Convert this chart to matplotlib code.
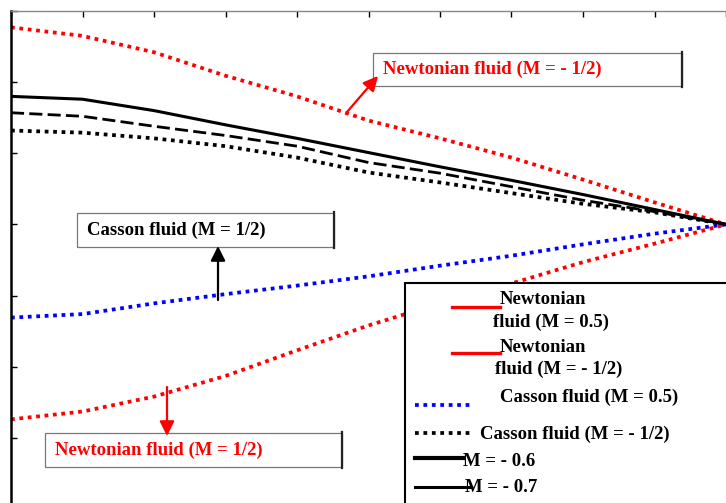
import matplotlib.pyplot as plt
from matplotlib.patches import Rectangle
from matplotlib.lines import Line2D

# serif bold labels, Times-like
plt.rcParams['font.family'] = ['Liberation Serif', 'DejaVu Serif']
plt.rcParams['font.weight'] = 'bold'

# distance along the channel
x_vals = [0.0, 0.1, 0.2, 0.3, 0.4, 0.5, 0.6, 0.7, 0.8, 0.9, 1.0]

# Newtonian fluid profiles
newton_neg_half = [2.77, 2.65, 2.42, 2.09, 1.80, 1.46, 1.21, 0.94, 0.63, 0.31, 0.0]
newton_pos_half = [-2.74, -2.63, -2.42, -2.13, -1.77, -1.42, -1.11, -0.83, -0.53, -0.27, 0.0]

# Casson fluid profiles
casson_pos_half = [-1.31, -1.26, -1.11, -0.98, -0.86, -0.73, -0.58, -0.44, -0.28, -0.13, 0.0]
casson_neg_half = [1.32, 1.29, 1.21, 1.10, 0.94, 0.73, 0.59, 0.44, 0.29, 0.17, 0.0]
casson_m06 = [1.80, 1.76, 1.60, 1.40, 1.21, 1.01, 0.81, 0.62, 0.42, 0.21, 0.0]
casson_m07 = [1.57, 1.52, 1.38, 1.25, 1.10, 0.87, 0.72, 0.53, 0.34, 0.18, 0.0]

W, H = 726, 503
fig = plt.figure(figsize=(W / 100, H / 100), dpi=100)

# main axes (right and bottom edges run off the canvas)
ax = fig.add_axes([11 / W, (H - 509) / H, (726 - 11) / W, 498 / H])
DOT = (0, (1, 1.25))
ax.plot(x_vals, newton_neg_half, color='red', lw=2.7, ls=DOT)
ax.plot(x_vals, newton_pos_half, color='red', lw=2.7, ls=DOT)
ax.plot(x_vals, casson_pos_half, color='blue', lw=2.7, ls=DOT)
ax.plot(x_vals, casson_neg_half, color='black', lw=2.7, ls=DOT)
ax.plot(x_vals, casson_m07, color='black', lw=2.0, ls=(0, (4.7, 1.9)))
ax.plot(x_vals, casson_m06, color='black', lw=2.2)

ax.set_xlim(0, 1)
ax.set_ylim(-4, 3)
ax.set_xticks([i / 10 for i in range(11)])
ax.set_yticks(range(-4, 4))
ax.tick_params(direction='in', length=4, width=1, labelleft=False,
               labelbottom=False, top=True, bottom=True, left=True, right=False)
ax.spines['right'].set_visible(False)
ax.spines['top'].set_color('#888888')
ax.spines['top'].set_linewidth(1.0)
ax.spines['left'].set_linewidth(1.8)

# overlay in pixel units for the boxes, arrows and key
ov = fig.add_axes([0, 0, 1, 1], zorder=5)
ov.set_xlim(0, W)
ov.set_ylim(H, 0)
ov.axis('off')
ov.patch.set_alpha(0)

FS = 13.5


def label_box(x0, y0, x1, y1, text, tx, color):
    ov.add_patch(Rectangle((x0, y0), x1 - x0, y1 - y0, facecolor='white',
                           edgecolor='#777777', lw=0.9))
    ov.plot([x1, x1], [y0 - 1, y1 + 1], color='#222222', lw=1.6)
    ov.text(tx, (y0 + y1) / 2, text, color=color, fontsize=FS,
            ha='left', va='center')


label_box(373, 53, 682, 86, 'Newtonian fluid (M = - 1/2)', 383, 'red')
label_box(77, 213, 334, 247, 'Casson fluid (M = 1/2)', 87, 'black')
label_box(45, 433, 342, 467, 'Newtonian fluid (M = 1/2)', 55, 'red')

arrow = dict(arrowstyle='-|>', lw=1.6, mutation_scale=22, shrinkA=0, shrinkB=0)
ov.annotate('', xy=(378, 76), xytext=(347, 112),
            arrowprops=dict(arrow, color='red'))
ov.annotate('', xy=(218, 246), xytext=(218, 300),
            arrowprops=dict(arrow, color='black'))
ov.annotate('', xy=(167, 436), xytext=(167, 387),
            arrowprops=dict(arrow, color='red'))

# key
ov.add_patch(Rectangle((405, 283), 340, 240, facecolor='white',
                       edgecolor='black', lw=1.5))
key_lines = [
    ((452, 500), 307, 'red', 2.4, '-'),
    ((452, 500), 353, 'red', 2.4, '-'),
    ((415, 472), 405, 'blue', 2.7, DOT),
    ((415, 472), 433, 'black', 2.7, DOT),
    ((415, 463), 458, 'black', 3.0, '-'),
    ((415, 470), 487, 'black', 2.2, '-'),
]
for (xa, xb), yy, c, lw, ls in key_lines:
    ov.add_line(Line2D([xa, xb], [yy, yy], color=c, lw=lw, ls=ls))

key_texts = [
    (500, 299, 'Newtonian'),
    (493, 322, 'fluid (M = 0.5)'),
    (500, 347, 'Newtonian'),
    (495, 369, 'fluid (M = - 1/2)'),
    (500, 397, 'Casson fluid (M = 0.5)'),
    (480, 434, 'Casson fluid (M = - 1/2)'),
    (463, 461, 'M = - 0.6'),
    (465, 488, 'M = - 0.7'),
]
for tx, ty, s in key_texts:
    ov.text(tx, ty, s, fontsize=FS, ha='left', va='center', color='black')

fig.savefig('out.png', dpi=100)
